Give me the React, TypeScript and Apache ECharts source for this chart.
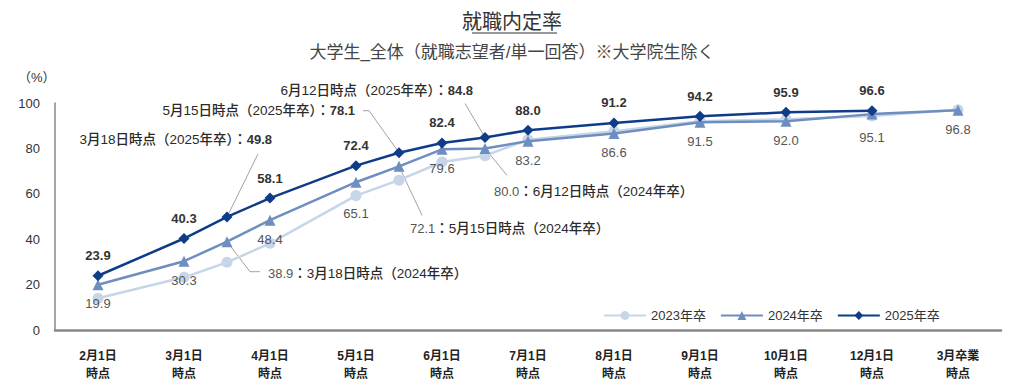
import React, { useEffect, useRef } from "react";
import * as echarts from "echarts";

const FONT = "'Liberation Sans', 'Noto Sans CJK JP', sans-serif";

const titleText = "就職内定率";
const subtitleText = "大学生_全体（就職志望者/単一回答）※大学院生除く";
const yUnit = "（%）";

// x slots: main survey dates, interim dates and empty padding slots
const xSlots = [
  "", "2月1日", " ", "3月1日", "3月18日", "4月1日", "  ", "5月1日", "5月15日", "6月1日",
  "6月12日", "7月1日", "   ", "8月1日", "    ", "9月1日", "     ", "10月1日", "      ",
  "12月1日", "       ", "3月卒業", "        ",
];
const mainTicks = ["2月1日", "3月1日", "4月1日", "5月1日", "6月1日", "7月1日", "8月1日", "9月1日", "10月1日", "12月1日", "3月卒業"];
const interimDates = ["3月18日", "5月15日", "6月12日"];

const seriesNames = ["2023年卒", "2024年卒", "2025年卒"];

const values2023 = [
  null, 14.0, null, 23.2, 29.8, 38.2, null, 59.2, 66.0, 74.0,
  76.8, 83.8, null, 87.6, null, 92.0, null, 92.8, null,
  94.3, null, 97.0, null,
];
const values2024 = [
  null, 19.9, null, 30.3, 38.9, 48.4, null, 65.1, 72.1, 79.6,
  80.0, 83.2, null, 86.6, null, 91.5, null, 92.0, null,
  95.1, null, 96.8, null,
];
const values2025 = [
  null, 23.9, null, 40.3, 49.8, 58.1, null, 72.4, 78.1, 82.4,
  84.8, 88.0, null, 91.2, null, 94.2, null, 95.9, null,
  96.6, null, null, null,
];

const COLORS = ["#c7d5e8", "#6e8ec0", "#0f3c88"];

export default function App() {
  const ref = useRef<HTMLDivElement>(null);

  useEffect(() => {
    const chart = echarts.init(ref.current!, null, { renderer: "svg" });

    const mkData = (vals: (number | null)[], labelExtra: Record<string, number> = {}) =>
      vals.map((v, i) => {
        if (v == null) return null;
        const slot = xSlots[i];
        const hide = interimDates.includes(slot);
        const item: any = { value: v };
        if (hide) item.label = { show: false };
        else if (labelExtra[slot] != null) item.label = { distance: labelExtra[slot] };
        return item;
      });

    const option: any = {
      animation: false,
      backgroundColor: "#ffffff",
      title: [
        {
          text: titleText,
          left: "center",
          top: 7,
          textStyle: { fontSize: 20, fontWeight: "normal", color: "#333", fontFamily: FONT },
        },
        {
          text: subtitleText,
          left: "center",
          top: 39,
          textStyle: { fontSize: 17, fontWeight: "normal", color: "#444", fontFamily: FONT },
        },
      ],
      legend: {
        left: 598,
        top: 304,
        itemWidth: 42,
        itemHeight: 11,
        itemGap: 14,
        data: seriesNames,
        textStyle: { fontSize: 13, color: "#333", fontFamily: FONT },
      },
      grid: { left: 55, right: 23, top: 103, bottom: 61 },
      xAxis: {
        type: "category",
        data: xSlots,
        boundaryGap: false,
        axisLine: { lineStyle: { color: "#888", width: 2.5 } },
        axisTick: { show: false },
        axisLabel: {
          interval: (_i: number, v: string) => mainTicks.includes(v),
          formatter: (v: string) => `${v}\n時点`,
          fontSize: 12,
          fontWeight: "bold",
          color: "#222",
          lineHeight: 18,
          margin: 17,
          fontFamily: FONT,
        },
      },
      yAxis: {
        type: "value",
        min: 0,
        max: 100,
        interval: 20,
        axisLine: { show: true, lineStyle: { color: "#888", width: 1.5 } },
        axisTick: { show: false },
        splitLine: { show: false },
        axisLabel: { fontSize: 13, color: "#333", margin: 15, fontFamily: FONT },
      },
      series: [
        {
          name: seriesNames[0],
          type: "line",
          data: mkData(values2023),
          connectNulls: true,
          symbol: "circle",
          symbolSize: 11,
          color: COLORS[0],
          lineStyle: { width: 2.5, color: COLORS[0] },
          itemStyle: { color: COLORS[0] },
          label: { show: false },
          z: 2,
        },
        {
          name: seriesNames[1],
          type: "line",
          data: mkData(values2024, { "5月1日": 19, "12月1日": 11 }),
          connectNulls: true,
          symbol: "triangle",
          symbolSize: 11,
          color: COLORS[1],
          lineStyle: { width: 2.5, color: COLORS[1] },
          itemStyle: { color: COLORS[1] },
          label: {
            show: true,
            position: "bottom",
            distance: 7,
            fontSize: 13,
            color: "#555",
            fontFamily: FONT,
            formatter: (p: any) => Number(p.value).toFixed(1),
          },
          z: 3,
        },
        {
          name: seriesNames[2],
          type: "line",
          data: mkData(values2025),
          connectNulls: true,
          symbol: "diamond",
          symbolSize: 11,
          color: COLORS[2],
          lineStyle: { width: 2.5, color: COLORS[2] },
          itemStyle: { color: COLORS[2] },
          label: {
            show: true,
            position: "top",
            distance: 8,
            fontSize: 13,
            fontWeight: "bold",
            color: "#333",
            fontFamily: FONT,
            formatter: (p: any) => Number(p.value).toFixed(1),
          },
          z: 4,
        },
      ],
    };

    chart.setOption(option);

    const valueOf = (vals: (number | null)[], slot: string) => vals[xSlots.indexOf(slot)] as number;
    const px = (slot: string, v: number) =>
      chart.convertToPixel({ xAxisIndex: 0, yAxisIndex: 0 }, [xSlots.indexOf(slot), v]) as number[];

    const richStyles = {
      t: { fontSize: 13.5, fontWeight: 500, fill: "#2a2a2a", fontFamily: FONT },
      b: { fontSize: 13, fontWeight: "bold", fill: "#333", fontFamily: FONT },
      n: { fontSize: 13, fill: "#555", fontFamily: FONT },
    };

    type Ann = {
      vals: (number | null)[];
      slot: string;
      year: string;
      above: boolean;
      align: "left" | "right";
      dx: number;
      dy: number;
      line: number[][];
    };
    const anns: Ann[] = [
      { vals: values2025, slot: "3月18日", year: "2025年卒", above: true, align: "right", dx: 45, dy: -77, line: [[31, -63], [0, 0]] },
      { vals: values2025, slot: "5月15日", year: "2025年卒", above: true, align: "right", dx: -44, dy: -42, line: [[-36, -42], [-30, -42], [0, 0]] },
      { vals: values2025, slot: "6月12日", year: "2025年卒", above: true, align: "right", dx: -12, dy: -47, line: [[-20, -34], [0, 0]] },
      { vals: values2024, slot: "3月18日", year: "2024年卒", above: false, align: "left", dx: 41, dy: 32, line: [[0, 0], [23, 30], [33, 30]] },
      { vals: values2024, slot: "5月15日", year: "2024年卒", above: false, align: "left", dx: 11, dy: 62, line: [[0, 0], [23, 49]] },
      { vals: values2024, slot: "6月12日", year: "2024年卒", above: false, align: "left", dx: 9, dy: 43, line: [[0, 0], [22, 27]] },
    ];

    const graphics: any[] = [];
    // title underline
    graphics.push({
      type: "line",
      shape: { x1: 472, y1: 33, x2: 557, y2: 33 },
      style: { stroke: "#333", lineWidth: 1 },
      silent: true,
    });
    graphics.push({
      type: "text",
      x: 18,
      y: 77,
      style: { text: yUnit, fontSize: 13, fill: "#333", fontFamily: FONT, verticalAlign: "middle" },
      silent: true,
    });

    anns.forEach((a) => {
      const v = valueOf(a.vals, a.slot);
      const [x, y] = px(a.slot, v);
      const num = v.toFixed(1);
      const text = a.above
        ? `{t|${a.slot}時点（${a.year}）：}{b|${num}}`
        : `{n|${num}}{t|：${a.slot}時点（${a.year}）}`;
      graphics.push({
        type: "polyline",
        shape: { points: a.line.map(([ox, oy]) => [x + ox, y + oy]) },
        style: { stroke: "#8a8a8a", lineWidth: 0.8, fill: null },
        silent: true,
        z: 1,
      });
      graphics.push({
        type: "text",
        x: x + a.dx,
        y: y + a.dy,
        style: { text, rich: richStyles, align: a.align, verticalAlign: "middle" },
        silent: true,
      });
    });

    chart.setOption({ graphic: graphics });

    return () => chart.dispose();
  }, []);

  return (
    <div
      ref={ref}
      style={{ position: "fixed", left: 0, top: 0, width: 1024, height: 391, background: "#fff" }}
    />
  );
}
